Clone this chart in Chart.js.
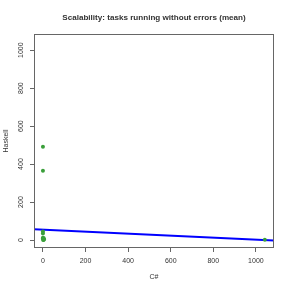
<!DOCTYPE html>
<html>
<head>
<meta charset="utf-8">
<script src="https://cdn.jsdelivr.net/npm/chart.js@4/dist/chart.umd.min.js"></script>
<style>
html,body{margin:0;padding:0;background:#fff;}
#wrap{width:291px;height:291px;position:relative;}
</style>
</head>
<body>
<div id="wrap"><canvas id="c" width="291" height="291"></canvas></div>
<script>
// Data
const csharp  = [0, 0, 0, 0, 0, 0, 2, 3, 5, 1, 4, 1042];
const haskell = [491, 365, 45, 35, 12, 8, 5, 2, 3, 0, 10, 2];
// fitted regression line, ends at the plot limits
const fitX = [-42, 1085];
const fitY = [57, -3];
const xTicks = [0, 200, 400, 600, 800, 1000];
const yTicks = [0, 200, 400, 600, 800, 1000];
const axisMin = -42, axisMax = 1085;
const titleText = 'Scalability: tasks running without errors (mean)';
const xLabel = 'C#';
const yLabel = 'Haskell';

const FONT = '"Liberation Sans", Arial, Helvetica, sans-serif';

const textPlugin = {
  id: 'rtext',
  afterDraw(chart) {
    const ctx = chart.ctx;
    const a = chart.chartArea;
    const xs = chart.scales.x, ys = chart.scales.y;
    ctx.save();
    // box
    ctx.strokeStyle = '#666';
    ctx.lineWidth = 1;
    ctx.strokeRect(Math.round(a.left) + 0.5, Math.round(a.top) + 0.5,
                   Math.round(a.right - a.left) - 1, Math.round(a.bottom - a.top) - 1);
    ctx.fillStyle = '#333';
    // title
    ctx.font = 'bold 8.1px ' + FONT;
    ctx.textAlign = 'center';
    ctx.textBaseline = 'middle';
    ctx.fillText(titleText, (a.left + a.right) / 2, 18);
    // x tick labels
    ctx.font = '7px ' + FONT;
    xTicks.forEach(v => ctx.fillText(String(v), xs.getPixelForValue(v), 261));
    // x label
    ctx.fillText(xLabel, (a.left + a.right) / 2, 277);
    // y tick labels (rotated)
    yTicks.forEach(v => {
      ctx.save();
      ctx.translate(21.5, ys.getPixelForValue(v));
      ctx.rotate(-Math.PI / 2);
      ctx.fillText(String(v), 0, 0);
      ctx.restore();
    });
    // y label
    ctx.save();
    ctx.translate(6.5, (a.top + a.bottom) / 2);
    ctx.rotate(-Math.PI / 2);
    ctx.fillText(yLabel, 0, 0);
    ctx.restore();
    ctx.restore();
  }
};

const pts = csharp.map((x, i) => ({x: x, y: haskell[i]}));
const fit = fitX.map((x, i) => ({x: x, y: fitY[i]}));

function axisCfg(vals, pos) {
  return {
    type: 'linear',
    position: pos,
    min: axisMin,
    max: axisMax,
    border: {display: false},
    grid: {display: true, drawOnChartArea: false, drawTicks: true, tickLength: 4, color: '#666', lineWidth: 1},
    ticks: {display: false},
    afterBuildTicks: s => { s.ticks = vals.map(v => ({value: v})); },
    afterFit: s => {
      if (pos === 'left') s.width = 34; else s.height = 43;
    }
  };
}

new Chart(document.getElementById('c'), {
  type: 'scatter',
  data: {
    datasets: [
      {
        label: 'tasks',
        data: pts,
        backgroundColor: '#3a9f3a',
        borderColor: '#3a9f3a',
        pointRadius: 2,
        pointBorderWidth: 0
      },
      {
        type: 'line',
        label: 'fit',
        data: fit,
        borderColor: '#0000ff',
        borderWidth: 2,
        pointRadius: 0,
        fill: false,
        tension: 0
      }
    ]
  },
  options: {
    responsive: false,
    animation: false,
    devicePixelRatio: 1,
    layout: {padding: {left: 0, top: 34, right: 17, bottom: 0}},
    plugins: {legend: {display: false}, title: {display: false}, tooltip: {enabled: false}},
    scales: {
      x: axisCfg(xTicks, 'bottom'),
      y: axisCfg(yTicks, 'left')
    }
  },
  plugins: [textPlugin]
});
</script>
</body>
</html>
